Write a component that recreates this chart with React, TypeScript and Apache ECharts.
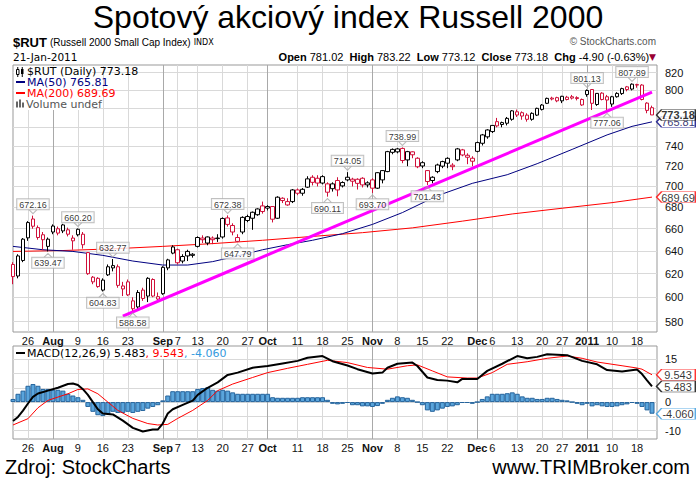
import React, { useEffect, useRef } from 'react';
import * as echarts from 'echarts';

const START_DAY = '2010-07-21';
const END_DAY = '2011-01-21';
const MARKET_HOLIDAYS = ['2010-09-06', '2010-11-25', '2010-12-24', '2011-01-17'];
const MONTH_NAMES = ['Jan', 'Feb', 'Mar', 'Apr', 'May', 'Jun', 'Jul', 'Aug', 'Sep', 'Oct', 'Nov', 'Dec'];

const openPrices = [
  628, 618, 631.5, 651.7, 669, 661, 654.5, 644, 657, 660, 658, 659, 649, 654.5, 655, 638.5, 613, 616, 606, 619,
  625, 626, 607, 613, 597, 592, 606, 601, 615, 598.5, 603, 625, 638, 641, 631, 639.5, 636, 644, 650, 647,
  651.5, 651, 652.5, 670, 663, 652, 657, 667.6, 669.7, 673, 681.3, 680.7, 680.7, 669.7, 688.6, 685.4, 685.4, 696.6, 693.4, 699.3,
  709, 708, 703.3, 702.5, 697.8, 705.8, 700.5, 706.4, 705.1, 707, 708, 701.5, 706.4, 698.3, 706.4, 714.6, 734, 734.5, 738, 726.3,
  734.5, 728, 723.5, 715.6, 705.8, 714.6, 720, 723, 721, 726.3, 736.5, 731, 728, 735, 743.3, 750, 755.5, 766, 763, 764.3,
  768.5, 776.6, 775.6, 773, 768.5, 773, 779.2, 785.8, 791.5, 792, 788.5, 790, 793, 792, 790, 795.5, 801, 784.5, 797, 793,
  785, 793, 796.5, 804, 801.5, 806.5, 806, 786, 781.02,
];
const highPrices = [
  630, 637, 651.5, 667, 672.16, 663, 657, 652, 664, 662, 664.5, 661, 654, 660.2, 657, 639, 618, 617, 616, 628,
  632.77, 628, 613, 615, 600, 606, 608, 617, 616, 604, 626.5, 633, 645, 642, 637, 641, 638, 653, 654, 653,
  653, 655, 670.5, 672.38, 665, 655, 671.5, 673, 676, 679, 685.4, 682, 681, 690.5, 689.5, 688.6, 697.5, 698, 698.5, 710,
  711, 711, 711, 704, 704, 709, 705, 714.05, 708.5, 708, 709, 705, 708, 714, 716, 735.5, 738, 738.5, 738.99, 735.5,
  735, 729, 725, 716, 710, 722.5, 725.5, 729, 723, 738.5, 737.5, 733, 730, 745, 753, 758, 762, 770, 766, 771,
  778.5, 779, 777, 775, 776, 781, 785, 792, 793, 793, 794, 794, 795, 793.5, 791, 801.13, 801.5, 797, 798, 795,
  794, 798, 803, 805, 807.89, 807.5, 807, 787, 783.22,
];
const lowPrices = [
  611, 616, 630, 649, 660, 650, 641, 639.47, 655, 654, 656, 653, 641, 653, 642, 619, 611, 608, 604.83, 618,
  622, 608, 601, 601, 588.58, 589, 597, 596, 600, 596, 602, 623, 637, 628, 629, 631, 634, 643, 647, 645,
  646, 648, 651, 662, 654, 647.79, 655, 666, 659, 672, 674, 677, 665.8, 669, 684, 681.4, 684, 691.5, 691, 698.5,
  701, 700, 702, 690.11, 695, 690.5, 699, 705, 700, 697, 699, 699, 693.7, 697.5, 703, 714, 732, 733, 723, 720,
  728, 718, 718, 701.43, 703, 713, 718, 718, 716, 725, 730, 722, 720, 734, 741, 748, 754, 760, 760, 762,
  767, 771, 768, 766, 767, 772, 778, 785, 789, 787, 786, 789, 790, 789, 783, 793, 778.5, 783, 789, 777.06,
  782, 792, 795, 799, 800, 803, 789, 775, 773.12,
];
const closePrices = [
  617.5, 635.5, 650.5, 665.7, 662.3, 652, 650, 650.5, 662.5, 656, 663.5, 655, 651.5, 659.5, 645.5, 620, 617, 609, 614.5, 626,
  627, 610, 609.5, 602, 590.5, 604, 599, 616, 601, 600.5, 625.5, 632, 643.5, 629.5, 635, 635.5, 637, 652, 651.5, 652.5,
  650, 651.5, 669.5, 664, 657, 648.5, 670.5, 671.3, 675.3, 678.4, 676, 679.2, 668.8, 689.6, 686.4, 682.2, 696.6, 693.4, 697.2, 707.4,
  704, 703.3, 709.6, 694.4, 702.5, 696.6, 703.8, 709, 707.1, 703, 701.5, 703.5, 698.3, 713.5, 715.6, 734.7, 737, 737.5, 725.7, 734.7,
  731.5, 719.4, 720.2, 704.8, 709, 721.2, 724.6, 727.9, 719.5, 737.5, 731.3, 729, 725, 744, 752, 757.2, 762, 761.5, 765, 769.5,
  777.6, 773.1, 772, 768.5, 774.9, 780.3, 783.9, 791.2, 790.5, 788.5, 793.5, 792.5, 791.5, 791, 784, 799.9, 785.8, 796.7, 790, 789.4,
  793, 796.7, 802, 801, 807, 806, 790, 778.08, 773.18,
];

const swingHighDays = [4, 13, 20, 43, 67, 78, 115, 124];
const swingLowDays = [7, 18, 24, 45, 63, 72, 83, 119];

const ma50Days = [0, 6, 12, 18, 24, 30, 35, 40, 45, 50, 55, 60, 66, 72, 78, 85, 92, 99, 105, 112, 119, 124, 128];
const ma50Values = [644, 641, 639.5, 636, 631, 627.5, 627.5, 630.5, 635.5, 641, 645.5, 649.5, 655.5, 664, 675, 691, 703, 711.5, 722.5, 737, 752, 761, 765.81];
const ma200Days = [0, 10, 20, 30, 40, 50, 60, 70, 80, 90, 100, 110, 120, 128];
const ma200Values = [639.5, 640.3, 641.8, 644, 646.5, 649.5, 653, 656.4, 660.8, 667, 673.7, 679.1, 684.4, 689.69];
const trendDays = [22, 128];
const trendValues = [584.5, 798];
const priceTicks = [580, 600, 620, 640, 660, 680, 700, 720, 740, 760, 780, 800, 820];

const macdDays = [0, 1, 2, 3, 4, 5, 7, 9, 11, 12, 13, 14, 15, 16, 17, 18, 20, 22, 24, 26, 28, 29, 30, 31, 32, 34, 36, 37, 39, 41, 43, 45, 48, 51, 54, 57, 59, 62, 64, 67, 69, 72, 74, 75, 77, 80, 81, 83, 85, 87, 89, 90, 93, 95, 98, 101, 103, 105, 107, 111, 114, 117, 119, 122, 125, 126, 127, 128];
const macdValues = [-6.6, -5.2, -3.0, -0.5, 1.8, 3.0, 4.0, 5.0, 6.3, 6.5, 6.0, 4.5, 2.5, 0, -2.5, -4.0, -4.3, -6.5, -9.0, -10.3, -9.6, -9.6, -7.5, -4.0, -2.5, -1.0, 0.5, 2.5, 5.0, 6.9, 9.5, 10.3, 12.0, 12.6, 13.5, 14.4, 15.5, 16.1, 14.3, 12.8, 11.5, 10.0, 10.3, 12.0, 13.4, 13.8, 12.6, 8.6, 7.7, 7.5, 6.9, 8.1, 8.1, 10.9, 13.4, 16.1, 15.3, 15.8, 16.7, 16.4, 14.4, 13.2, 11.2, 10.7, 11.4, 9.8, 7.6, 5.483];
const signalDays = [0, 3, 5, 7, 11, 13, 15, 17, 19, 21, 24, 27, 29, 31, 33, 36, 39, 41, 44, 48, 51, 55, 59, 63, 67, 71, 75, 79, 81, 84, 87, 91, 93, 96, 99, 103, 107, 111, 114, 117, 122, 125, 126, 127, 128];
const signalValues = [-8.0, -5.8, -2.0, 0.6, 2.9, 4.4, 4.6, 2.9, 0.0, -2.9, -5.7, -7.5, -8.0, -7.8, -5.7, -2.9, 0.6, 4.0, 6.3, 8.6, 10.3, 11.8, 13.2, 14.6, 13.8, 12.1, 11.5, 12.7, 13.0, 10.9, 8.8, 8.4, 8.4, 10.3, 13.2, 14.1, 15.3, 16.1, 15.3, 14.0, 12.7, 11.9, 11.5, 10.5, 9.543];
const histValues = [
  1.1, 2.9, 4.0, 5.7, 6.3, 5.7, 4.6, 4.6, 4.3, 4.3, 4.0, 2.9, 2.3, 1.7, 0.8, -1.7, -3.4, -4.6, -4.9, -4.3,
  -3.4, -3.8, -3.8, -3.4, -3.8, -3.4, -3.1, -2.3, -1.7, -1.1, 0.6, 2.3, 3.8, 3.8, 3.8, 3.8, 3.8, 4.6, 4.9, 5.2,
  4.3, 4.0, 4.3, 4.0, 3.4, 2.9, 2.9, 2.9, 2.9, 2.9, 2.9, 2.9, 1.7, 1.5, 1.5, 1.5, 1.5, 1.5, 1.7, 1.7,
  1.7, 1.7, 1.7, 0.8, -0.6, -0.8, -0.6, -0.3, -1.1, -1.1, -1.5, -1.5, -1.7, -1.4, -0.6, 0.8, 1.5, 2.0, 1.7, 1.5,
  0.8, 0.0, -1.1, -2.9, -3.4, -2.9, -2.3, -1.7, -1.5, -1.1, -0.3, -0.3, -0.6, 0.0, 1.1, 2.0, 2.9, 2.9, 2.9, 3.1,
  3.4, 2.9, 2.0, 1.5, 1.5, 1.1, 1.1, 1.5, 1.5, 1.1, 0.8, 0.6, 0.0, -0.6, -1.1, -0.6, -1.5, -1.1, -1.5, -1.7,
  -1.7, -1.5, -1.1, -0.8, -0.3, -0.6, -1.7, -2.9, -4.06,
];
const macdTicks = [-10, -5, 0, 5, 10, 15];

const SANS = '"Liberation Sans", Arial, sans-serif';
const VERD = '"DejaVu Sans", Verdana, sans-serif';
const RED = '#d0103a';
const NAVY = '#000080';
const HIST_BLUE = '#3399dd';
const TAG_PATH = 'path://M0,6L6,0L46,0L46,12L6,12Z';

function tradingDays(start: string, end: string, holidays: string[]) {
  const out: string[] = [];
  const d = new Date(start + 'T00:00:00Z');
  const e = new Date(end + 'T00:00:00Z');
  while (d.getTime() <= e.getTime()) {
    const wd = d.getUTCDay();
    const s = d.toISOString().slice(0, 10);
    if (wd !== 0 && wd !== 6 && holidays.indexOf(s) < 0) out.push(s);
    d.setUTCDate(d.getUTCDate() + 1);
  }
  return out;
}

function buildOption() {
  const L = Math.log;
  const dates = tradingDays(START_DAY, END_DAY, MARKET_HOLIDAYS);
  const N = dates.length;
  const cats = dates.concat(['']);
  const dt = (k: number) => new Date(dates[k] + 'T00:00:00Z');
  const monthStart = (k: number) => k > 0 && k < N && dt(k).getUTCMonth() !== dt(k - 1).getUTCMonth();
  const labelText = (i: number): string => {
    if (i <= 0 || i >= N) return '';
    const d = dt(i);
    const p = dt(i - 1);
    if (monthStart(i)) {
      const m = d.getUTCMonth();
      return '{b|' + (m === 0 ? String(d.getUTCFullYear()) : MONTH_NAMES[m]) + '}';
    }
    if (d.getUTCDay() < p.getUTCDay()) {
      for (let k = i - 2; k <= i + 2; k++) if (k !== i && monthStart(k)) return '';
      return String(d.getUTCDate());
    }
    return '';
  };
  const weekLine = (i: number) => labelText(i) !== '' && !monthStart(i);

  const labelStyle = {
    fontFamily: SANS, fontSize: 11, color: '#111', margin: 3,
    rich: { b: { fontFamily: SANS, fontSize: 11, fontWeight: 'bold', color: '#111' } },
  };
  const mkX = (grid: number) => [
    {
      type: 'category', gridIndex: grid, data: cats, boundaryGap: false,
      axisLine: { show: false }, axisTick: { show: false },
      axisLabel: { ...labelStyle, interval: (i: number) => labelText(i) !== '', formatter: (_v: string, i: number) => labelText(i) },
      splitLine: { show: true, interval: (i: number) => weekLine(i), lineStyle: { color: '#d9d9d9', width: 1 } },
    },
    {
      type: 'category', gridIndex: grid, data: cats, boundaryGap: false,
      axisLine: { show: false }, axisTick: { show: false }, axisLabel: { show: false },
      splitLine: { show: true, interval: (i: number) => monthStart(i), lineStyle: { color: '#a9a9a9', width: 1 } },
    },
  ];

  const candleData = openPrices.map((o, i) => {
    const c = closePrices[i];
    const prev = i > 0 ? closePrices[i - 1] : o;
    const col = c >= prev ? '#000000' : RED;
    return {
      value: [L(o), L(c), L(lowPrices[i]), L(highPrices[i])],
      itemStyle: { color: '#ffffff', color0: col, borderColor: col, borderColor0: col, borderWidth: 1 },
    };
  });

  const annLabel = {
    show: true, fontFamily: SANS, fontSize: 9, color: '#000', backgroundColor: '#fff',
    borderColor: '#b0b0b0', borderWidth: 1, padding: [1, 2, 0, 2], distance: 0,
  };

  const last = N - 1;
  const ma50Last = ma50Values[ma50Values.length - 1];
  const ma200Last = ma200Values[ma200Values.length - 1];
  const macdLast = macdValues[macdValues.length - 1];
  const sigLast = signalValues[signalValues.length - 1];
  const histLast = histValues[histValues.length - 1];

  // tick labels hidden where a value tag sits on top of them (as in the reference)
  const priceTagVals = [closePrices[last], ma50Last, ma200Last];
  const priceLabelTicks = priceTicks.filter((t) => priceTagVals.every((v) => Math.abs(L(t) - L(v)) > 0.011));
  const macdTagVals = [macdLast, sigLast, histLast];
  const macdLabelTicks = macdTicks.filter((t) => macdTagVals.every((v) => Math.abs(t - v) > 2.8));

  const tagItem = (name: string, value: number[], border: string, color: string, bold: boolean) => ({
    name, value,
    itemStyle: { color: '#fff', borderColor: border, borderWidth: 1 },
    label: {
      show: true, position: 'inside', offset: [2, 0.5], formatter: '{b}',
      fontFamily: SANS, fontSize: 11, lineHeight: 10, fontWeight: bold ? 'bold' : 'normal', color,
    },
  });
  const tagSeries = (name: string, xi: number, yi: number, z: number, data: any[]) => ({
    type: 'scatter', name, xAxisIndex: xi, yAxisIndex: yi, z, silent: true,
    symbol: TAG_PATH, symbolSize: [39, 11], symbolOffset: [24, 0], symbolKeepAspect: false,
    data,
  });

  const txt = (x: number, y: number, text: string, extra: any = {}, align = 'left') => ({
    type: 'text', x, y, silent: true, z: 100,
    style: {
      text, fontFamily: SANS, fontSize: 11, fill: '#000',
      align, textAlign: align, verticalAlign: 'middle', textVerticalAlign: 'middle', ...extra,
    },
  });
  const leg = { fontFamily: VERD, fontSize: 11, lineHeight: 10 };

  const graphic: any[] = [
    txt(348, 17, 'Spotový akciový index Russell 2000', { fontSize: 32 }, 'center'),
    txt(13, 42, '{a|$RUT} {b|(Russell 2000 Small Cap Index)} {c|INDX}', {
      rich: {
        a: { fontFamily: SANS, fontSize: 13, fontWeight: 'bold', fill: '#000' },
        b: { fontFamily: SANS, fontSize: 10, fill: '#000' },
        c: { fontFamily: VERD, fontSize: 8, fill: '#000' },
      },
    }),
    txt(13, 57, '21-Jan-2011', { fontFamily: VERD, fontSize: 10.5 }),
    txt(656, 41.5, '© StockCharts.com', { fontSize: 10, fill: '#555' }, 'right'),
    txt(656, 57, '{k|Open} 781.02  {k|High} 783.22  {k|Low} 773.12  {k|Close} 773.18  {k|Chg} -4.90 (-0.63%){r|▼}', {
      rich: {
        k: { fontFamily: SANS, fontSize: 11, fontWeight: 'bold', fill: '#000' },
        r: { fontFamily: VERD, fontSize: 9, fill: '#990033' },
      },
    }, 'right'),
    { type: 'rect', shape: { x: 14, y: 66, width: 78, height: 44 }, style: { fill: '#fff' }, silent: true, z: 90 },
    { type: 'rect', shape: { x: 16.5, y: 69.5, width: 2.5, height: 5 }, style: { fill: '#fff', stroke: '#000', lineWidth: 1 }, silent: true, z: 100 },
    { type: 'line', shape: { x1: 17.75, y1: 67, x2: 17.75, y2: 77 }, style: { stroke: '#000', lineWidth: 1 }, silent: true, z: 99 },
    { type: 'rect', shape: { x: 21, y: 69, width: 2.5, height: 5 }, style: { fill: '#000' }, silent: true, z: 100 },
    { type: 'line', shape: { x1: 22.25, y1: 67, x2: 22.25, y2: 77 }, style: { stroke: '#000', lineWidth: 1 }, silent: true, z: 100 },
    txt(27, 71, '$RUT (Daily) ' + closePrices[last].toFixed(2), leg),
    { type: 'line', shape: { x1: 16, y1: 82, x2: 25, y2: 82 }, style: { stroke: NAVY, lineWidth: 2 }, silent: true, z: 100 },
    txt(27, 82, 'MA(50) ' + ma50Last.toFixed(2), { ...leg, fill: NAVY }),
    { type: 'line', shape: { x1: 16, y1: 93, x2: 25, y2: 93 }, style: { stroke: '#ff0000', lineWidth: 2 }, silent: true, z: 100 },
    txt(27, 93, 'MA(200) ' + ma200Last.toFixed(2), { ...leg, fill: '#ff0000' }),
    { type: 'rect', shape: { x: 16, y: 101.5, width: 2, height: 6 }, style: { fill: '#666' }, silent: true, z: 100 },
    { type: 'rect', shape: { x: 19, y: 99.5, width: 2, height: 8 }, style: { fill: '#666' }, silent: true, z: 100 },
    { type: 'rect', shape: { x: 22, y: 102.5, width: 2, height: 5 }, style: { fill: '#666' }, silent: true, z: 100 },
    txt(26, 104, 'Volume undef', { ...leg, fill: '#555' }),
    { type: 'rect', shape: { x: 14, y: 347, width: 222, height: 12 }, style: { fill: '#fff' }, silent: true, z: 90 },
    { type: 'line', shape: { x1: 16, y1: 353, x2: 25, y2: 353 }, style: { stroke: '#000', lineWidth: 2 }, silent: true, z: 100 },
    txt(27, 353, '{k|MACD(12,26,9) ' + macdLast.toFixed(3) + '}{r|, ' + sigLast.toFixed(3) + '}{c|, ' + histLast.toFixed(3) + '}', {
      fontFamily: VERD, fontSize: 11,
      rich: {
        k: { fontFamily: VERD, fontSize: 11, fill: '#000' },
        r: { fontFamily: VERD, fontSize: 11, fill: '#ff0000' },
        c: { fontFamily: VERD, fontSize: 11, fill: HIST_BLUE },
      },
    }),
    txt(5, 467, 'Zdroj: StockCharts', { fontSize: 20 }),
    txt(690, 467, 'www.TRIMBroker.com', { fontSize: 20 }, 'right'),
  ];

  return {
    animation: false,
    backgroundColor: '#ffffff',
    grid: [
      { left: 13, top: 65, width: 644, height: 267, show: true, borderColor: '#999', borderWidth: 1, backgroundColor: 'transparent' },
      { left: 13, top: 346, width: 644, height: 93, show: true, borderColor: '#999', borderWidth: 1, backgroundColor: 'transparent' },
    ],
    xAxis: [...mkX(0), ...mkX(1)],
    yAxis: [
      {
        type: 'value', gridIndex: 0, position: 'right', min: L(571.7), max: L(828.8),
        axisLine: { show: false }, axisTick: { show: false, customValues: priceTicks.map(L) },
        axisLabel: {
          customValues: priceLabelTicks.map(L), formatter: (v: number) => String(Math.round(Math.exp(v))),
          fontFamily: SANS, fontSize: 11, lineHeight: 10, color: '#111', margin: 8,
        },
        splitLine: { show: true, lineStyle: { color: '#d9d9d9', width: 1 } },
      },
      {
        type: 'value', gridIndex: 1, position: 'right', min: -12.9, max: 19.6,
        axisLine: { show: false }, axisTick: { show: false, customValues: macdTicks },
        axisLabel: { customValues: macdLabelTicks, fontFamily: SANS, fontSize: 11, lineHeight: 10, color: '#111', margin: 8 },
        splitLine: { show: true, lineStyle: { color: '#d9d9d9', width: 1 } },
      },
    ],
    series: [
      {
        type: 'line', name: 'MA200', xAxisIndex: 0, yAxisIndex: 0, symbol: 'none', z: 2,
        data: ma200Days.map((d, k) => [d, L(ma200Values[k])]), lineStyle: { color: '#ff0000', width: 1 },
      },
      {
        type: 'line', name: 'MA50', xAxisIndex: 0, yAxisIndex: 0, symbol: 'none', z: 2,
        data: ma50Days.map((d, k) => [d, L(ma50Values[k])]), lineStyle: { color: NAVY, width: 1 },
      },
      {
        type: 'candlestick', name: '$RUT', xAxisIndex: 0, yAxisIndex: 0, barWidth: 4, z: 3,
        data: candleData,
      },
      {
        type: 'line', name: 'trend', xAxisIndex: 0, yAxisIndex: 0, symbol: 'none', z: 4,
        data: trendDays.map((d, k) => [d, L(trendValues[k])]), lineStyle: { color: '#ff00ff', width: 3 },
      },
      {
        type: 'scatter', name: 'highs', xAxisIndex: 0, yAxisIndex: 0, z: 5, silent: true,
        symbol: 'path://M0,0L5,5L10,0', symbolSize: [8, 4], symbolOffset: [0, -4],
        itemStyle: { color: 'transparent', borderColor: '#aaa', borderWidth: 1 },
        label: { ...annLabel, position: 'top', formatter: (p: any) => highPrices[p.data[0]].toFixed(2) },
        data: swingHighDays.map((d) => [d, L(highPrices[d])]),
      },
      {
        type: 'scatter', name: 'lows', xAxisIndex: 0, yAxisIndex: 0, z: 5, silent: true,
        symbol: 'path://M0,5L5,0L10,5', symbolSize: [8, 4], symbolOffset: [0, 4],
        itemStyle: { color: 'transparent', borderColor: '#aaa', borderWidth: 1 },
        label: { ...annLabel, position: 'bottom', formatter: (p: any) => lowPrices[p.data[0]].toFixed(2) },
        data: swingLowDays.map((d) => [d, L(lowPrices[d])]),
      },
      tagSeries('maTags', 0, 0, 10, [
        tagItem(ma50Last.toFixed(2), [last, L(ma50Last)], NAVY, '#000050', false),
        tagItem(ma200Last.toFixed(2), [last, L(ma200Last)], '#ff0000', '#000', false),
      ]),
      tagSeries('closeTag', 0, 0, 11, [
        tagItem(closePrices[last].toFixed(2), [last, L(closePrices[last])], '#000', '#000', true),
      ]),
      {
        type: 'bar', name: 'hist', xAxisIndex: 2, yAxisIndex: 1, barCategoryGap: '0%', z: 2,
        itemStyle: { color: '#5aa5dc', borderColor: '#24639c', borderWidth: 1 },
        data: histValues,
      },
      {
        type: 'line', name: 'signal', xAxisIndex: 2, yAxisIndex: 1, symbol: 'none', z: 3,
        data: signalDays.map((d, k) => [d, signalValues[k]]), lineStyle: { color: '#ff0000', width: 1 },
      },
      {
        type: 'line', name: 'macd', xAxisIndex: 2, yAxisIndex: 1, symbol: 'none', z: 4,
        data: macdDays.map((d, k) => [d, macdValues[k]]), lineStyle: { color: '#000', width: 2 },
      },
      tagSeries('macdTags', 2, 1, 10, [
        tagItem(sigLast.toFixed(3), [last, sigLast], '#ff0000', '#000', false),
        tagItem(macdLast.toFixed(3), [last, macdLast], '#000', '#000', false),
        tagItem(histLast.toFixed(3), [last, histLast], HIST_BLUE, '#000', false),
      ]),
    ],
    graphic: { elements: graphic },
  };
}

export default function App() {
  const ref = useRef<HTMLDivElement>(null);
  useEffect(() => {
    const chart = echarts.init(ref.current as HTMLDivElement, undefined, { renderer: 'svg', width: 696, height: 480 });
    chart.setOption(buildOption() as any);
    return () => chart.dispose();
  }, []);
  return (
    <div
      ref={ref}
      style={{ position: 'fixed', left: 0, top: 0, width: 696, height: 480, background: '#fff' }}
    />
  );
}
